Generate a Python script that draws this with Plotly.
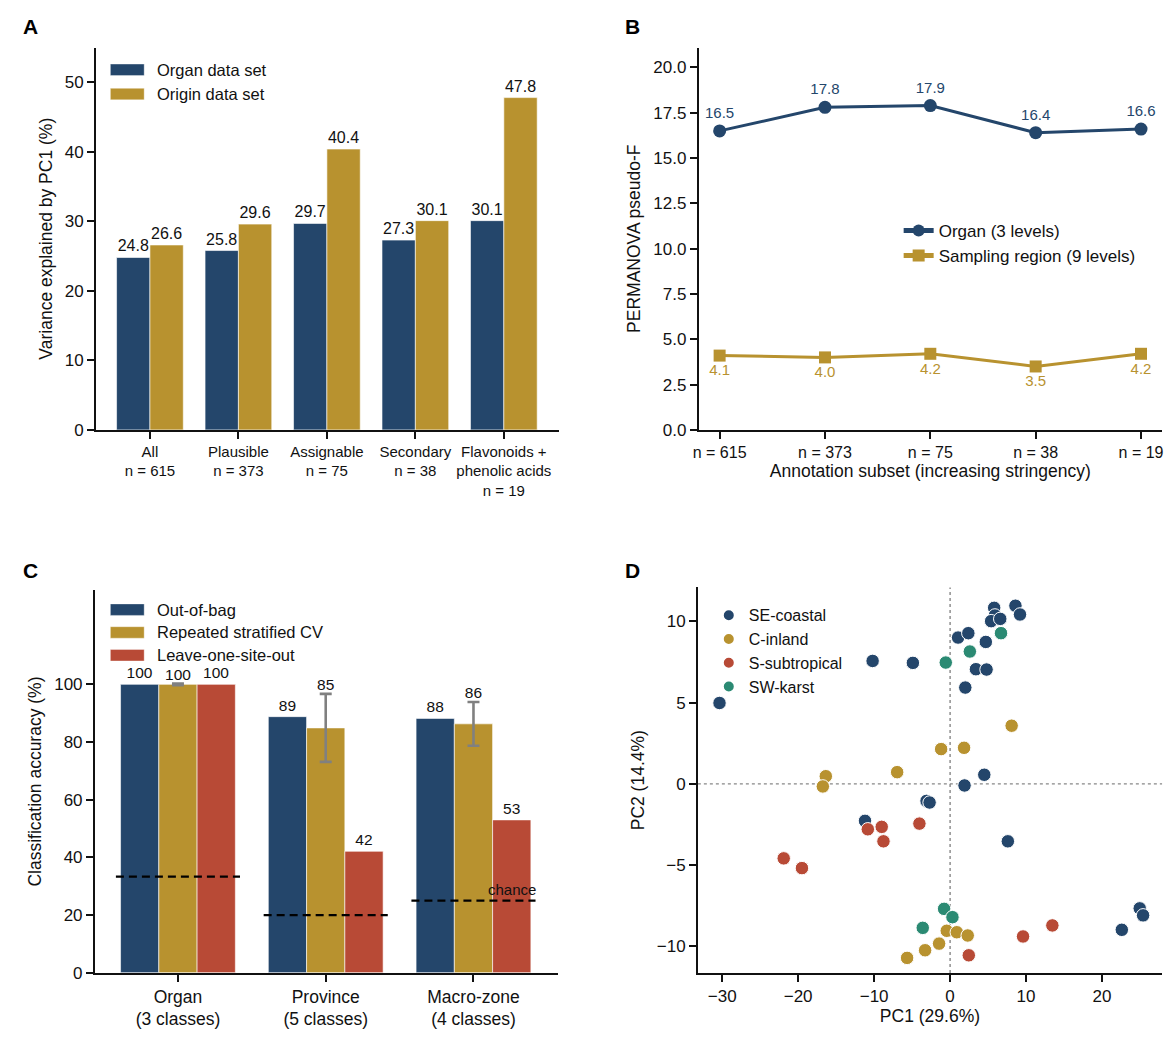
import plotly.graph_objects as go

NAVY = "#24466B"
GOLD = "#B8922F"
RED = "#B84A36"
TEAL = "#2B8A73"
FONT = "Liberation Sans, Arial, sans-serif"
W, H = 1176, 1056

# Panel A data
subsets = ["All<br>n = 615", "Plausible<br>n = 373", "Assignable<br>n = 75",
           "Secondary<br>n = 38", "Flavonoids +<br>phenolic acids<br>n = 19"]
organ_pc1 = [24.8, 25.8, 29.7, 27.3, 30.1]
origin_pc1 = [26.6, 29.6, 40.4, 30.1, 47.8]

# Panel B data
subset_n = ["n = 615", "n = 373", "n = 75", "n = 38", "n = 19"]
organ_F = [16.5, 17.8, 17.9, 16.4, 16.6]
region_F = [4.1, 4.0, 4.2, 3.5, 4.2]

# Panel C data
targets = ["Organ<br>(3 classes)", "Province<br>(5 classes)", "Macro-zone<br>(4 classes)"]
n_classes = [3, 5, 4]
oob_acc = [100, 88.8, 88.2]
cv_acc = [100, 84.9, 86.3]
cv_err = [0.3, 11.8, 7.6]
loso_acc = [100, 42.1, 53.0]

# Panel D data (PCA scores)
se_x = [5.8, 8.6, 9.2, 5.9, 5.4, 6.6, 1.05, 2.4, 4.7, -10.2, -4.9, 3.4, 4.8, 2.0,
        -30.35, 4.5, 1.9, -3.1, -2.7, -11.2, 7.6, 24.96, 25.4, 22.6]
se_y = [10.84, 10.97, 10.43, 10.37, 10.02, 10.16, 9.01, 9.28, 8.74, 7.57, 7.45, 7.06, 7.04, 5.93,
        4.98, 0.56, -0.1, -1.05, -1.15, -2.28, -3.54, -7.67, -8.1, -8.99]
ci_x = [8.1, -1.18, 1.84, -6.97, -16.36, -16.75, -0.44, 0.88, 2.32, -1.45, -3.29, -5.66]
ci_y = [3.58, 2.14, 2.22, 0.72, 0.47, -0.16, -9.05, -9.14, -9.34, -9.84, -10.25, -10.72]
ss_x = [-10.83, -9.0, -8.77, -4.04, -21.9, -19.5, 13.46, 9.6, 2.46]
ss_y = [-2.8, -2.65, -3.54, -2.45, -4.59, -5.19, -8.72, -9.4, -10.56]
sw_x = [6.7, 2.6, -0.57, -0.79, 0.31, -3.6]
sw_y = [9.28, 8.15, 7.47, -7.7, -8.21, -8.87]


def px_x(p):
    return p / W


def px_y(p):
    return 1 - p / H


fig = go.Figure()

# ---- A: grouped bars
idxA = list(range(len(subsets)))
for vals, col, off in [(organ_pc1, NAVY, -0.377), (origin_pc1, GOLD, 0)]:
    fig.add_trace(go.Bar(x=idxA, y=vals, marker_color=col, showlegend=False,
                         marker_line=dict(color="white", width=0.6), width=0.377, offset=off,
                         text=[f"{v:.1f}" for v in vals], textposition="outside",
                         textfont=dict(size=16, color="#111"), cliponaxis=False,
                         xaxis="x", yaxis="y"))

# ---- B: lines
idxB = list(range(len(subset_n)))
fig.add_trace(go.Scatter(x=idxB, y=organ_F, name="Organ (3 levels)", mode="lines+markers+text",
                         line=dict(color=NAVY, width=3), marker=dict(symbol="circle", size=13, color=NAVY),
                         text=[f"{v:.1f}" for v in organ_F], textposition="top center",
                         textfont=dict(size=15, color=NAVY), cliponaxis=False,
                         xaxis="x2", yaxis="y2", legend="legend2"))
fig.add_trace(go.Scatter(x=idxB, y=region_F, name="Sampling region (9 levels)", mode="lines+markers+text",
                         line=dict(color=GOLD, width=3), marker=dict(symbol="square", size=12, color=GOLD),
                         text=[f"{v:.1f}" for v in region_F], textposition="bottom center",
                         textfont=dict(size=15, color=GOLD), cliponaxis=False,
                         xaxis="x2", yaxis="y2", legend="legend2"))

# ---- C: accuracy bars
idxC = list(range(len(targets)))
bw = 0.259
for vals, col, off, err in [(oob_acc, NAVY, -1.5 * bw, None),
                            (cv_acc, GOLD, -0.5 * bw, cv_err),
                            (loso_acc, RED, 0.5 * bw, None)]:
    fig.add_trace(go.Bar(x=idxC, y=vals, marker_color=col, showlegend=False,
                         marker_line=dict(color="white", width=0.6), width=bw, offset=off,
                         text=None if err else [f"{v:.0f}" for v in vals],
                         textposition="outside", textfont=dict(size=15.5, color="#111"),
                         error_y=dict(type="data", array=err, color="#808080", thickness=2.6, width=6)
                         if err else None,
                         cliponaxis=False, xaxis="x3", yaxis="y3"))
# CV labels above the error bars
fig.add_trace(go.Scatter(x=idxC, y=[m + e for m, e in zip(cv_acc, cv_err)], mode="text",
                         text=[f"{v:.0f}" for v in cv_acc], textposition="top center",
                         textfont=dict(size=15.5, color="#111"), showlegend=False, cliponaxis=False,
                         xaxis="x3", yaxis="y3"))
# chance levels
for i, n in enumerate(n_classes):
    fig.add_trace(go.Scatter(x=[i - 0.42, i + 0.42], y=[100 / n, 100 / n], mode="lines",
                             line=dict(color="black", width=2.2, dash="8px,5px"), showlegend=False,
                             xaxis="x3", yaxis="y3"))

# ---- D: PCA scatter
for name, xs, ys, col in [("SE-coastal", se_x, se_y, NAVY), ("C-inland", ci_x, ci_y, GOLD),
                          ("S-subtropical", ss_x, ss_y, RED), ("SW-karst", sw_x, sw_y, TEAL)]:
    fig.add_trace(go.Scatter(x=xs, y=ys, mode="markers", name=name,
                             marker=dict(size=13.5, color=col, line=dict(color="white", width=1)),
                             xaxis="x4", yaxis="y4", legend="legend4"))

# bar-chart legends drawn as rectangles + text (matplotlib-like wide patches)
shapes = [
    dict(type="line", xref="x4", yref="y4 domain", x0=0, x1=0, y0=0, y1=1,
         line=dict(color="#888", width=1.4, dash="dot"), layer="below"),
    dict(type="line", xref="x4 domain", yref="y4", x0=0, x1=1, y0=0, y1=0,
         line=dict(color="#888", width=1.4, dash="dot"), layer="below"),
]
annotations = []
bar_legends = [
    (["Organ data set", "Origin data set"], [NAVY, GOLD], 70.5, 24.5),
    (["Out-of-bag", "Repeated stratified CV", "Leave-one-site-out"], [NAVY, GOLD, RED], 615.5, 23),
]
for names, cols, y0, step in bar_legends:
    for k, (nm, col) in enumerate(zip(names, cols)):
        yc = y0 + k * step
        shapes.append(dict(type="rect", xref="paper", yref="paper",
                           x0=px_x(105), x1=px_x(139), y0=px_y(yc + 5.8), y1=px_y(yc - 5.8),
                           fillcolor=col, line=dict(color="rgba(255,255,255,0.6)", width=0.6)))
        annotations.append(dict(text=nm, xref="paper", yref="paper", x=px_x(150), y=px_y(yc),
                                xanchor="left", yanchor="middle", showarrow=False,
                                font=dict(size=16.5, color="#111")))

letter = dict(xref="paper", yref="paper", xanchor="left", yanchor="top", showarrow=False,
              font=dict(size=21, color="black"))
annotations += [
    dict(letter, text="<b>A</b>", x=px_x(15), y=px_y(13)),
    dict(letter, text="<b>B</b>", x=px_x(621), y=px_y(13)),
    dict(letter, text="<b>C</b>", x=px_x(15), y=px_y(562)),
    dict(letter, text="<b>D</b>", x=px_x(621), y=px_y(562)),
    dict(text="chance", x=2.44, y=25, xref="x3", yref="y3", xanchor="right", yanchor="bottom",
         yshift=1, showarrow=False, font=dict(size=15, color="#111")),
]

axis_common = dict(showline=True, linecolor="#111", linewidth=1.6, ticks="outside",
                   ticklen=7, tickwidth=1.6, tickcolor="#111", showgrid=False, zeroline=False,
                   tickfont=dict(size=17, color="#111"), title_font=dict(size=17.5, color="#111"))

legend_common = dict(bgcolor="rgba(0,0,0,0)", font=dict(size=16.5, color="#111"),
                     xanchor="left", yanchor="top", itemsizing="constant", tracegroupgap=0)

fig.update_layout(
    width=W, height=H, margin=dict(l=0, r=0, t=0, b=0),
    plot_bgcolor="white", paper_bgcolor="white",
    font=dict(family=FONT, color="#111"),
    xaxis=dict(axis_common, domain=[px_x(90.5), px_x(556)], anchor="y", range=[-0.61, 4.62],
               tickvals=idxA, ticktext=subsets, tickfont=dict(size=15, color="#111")),
    yaxis=dict(axis_common, domain=[px_y(434), px_y(48)], anchor="x", range=[0, 55],
               tickvals=[0, 10, 20, 30, 40, 50], title_text="Variance explained by PC1 (%)",
               title_standoff=8),
    xaxis2=dict(axis_common, domain=[px_x(696.7), px_x(1163)], anchor="y2", range=[-0.2, 4.2],
                tickvals=idxB, ticktext=subset_n, tickfont=dict(size=16, color="#111"),
                title_text="Annotation subset (increasing stringency)", title_standoff=4),
    yaxis2=dict(axis_common, domain=[px_y(434), px_y(48)], anchor="x2", range=[0, 21.1],
                dtick=2.5, tickformat=".1f", title_text="PERMANOVA pseudo-F", title_standoff=8),
    xaxis3=dict(axis_common, domain=[px_x(89.3), px_x(555)], anchor="y3", range=[-0.563, 2.57],
                tickvals=idxC, ticktext=targets, tickfont=dict(size=17.5, color="#111")),
    yaxis3=dict(axis_common, domain=[px_y(982), px_y(596)], anchor="x3", range=[0, 132.6],
                tickvals=[0, 20, 40, 60, 80, 100], title_text="Classification accuracy (%)",
                title_standoff=8),
    xaxis4=dict(axis_common, domain=[px_x(696), px_x(1163)], anchor="y4", range=[-33.2, 27.9],
                dtick=10, title_text="PC1 (29.6%)", title_standoff=4),
    yaxis4=dict(axis_common, domain=[px_y(982.3), px_y(593)], anchor="x4", range=[-11.65, 12.1],
                dtick=5, title_text="PC2 (14.4%)", title_standoff=8),
    legend2=dict(legend_common, x=px_x(898), y=px_y(215), font=dict(size=17, color="#111")),
    legend4=dict(legend_common, x=px_x(707), y=px_y(604), font=dict(size=16, color="#111")),
    shapes=shapes,
    annotations=annotations,
)

# drop the default page margin so the 1176x1056 figure fills the window exactly
fig.write_html("out.html", config={"displayModeBar": False},
               post_script="document.body.style.margin='0';")
